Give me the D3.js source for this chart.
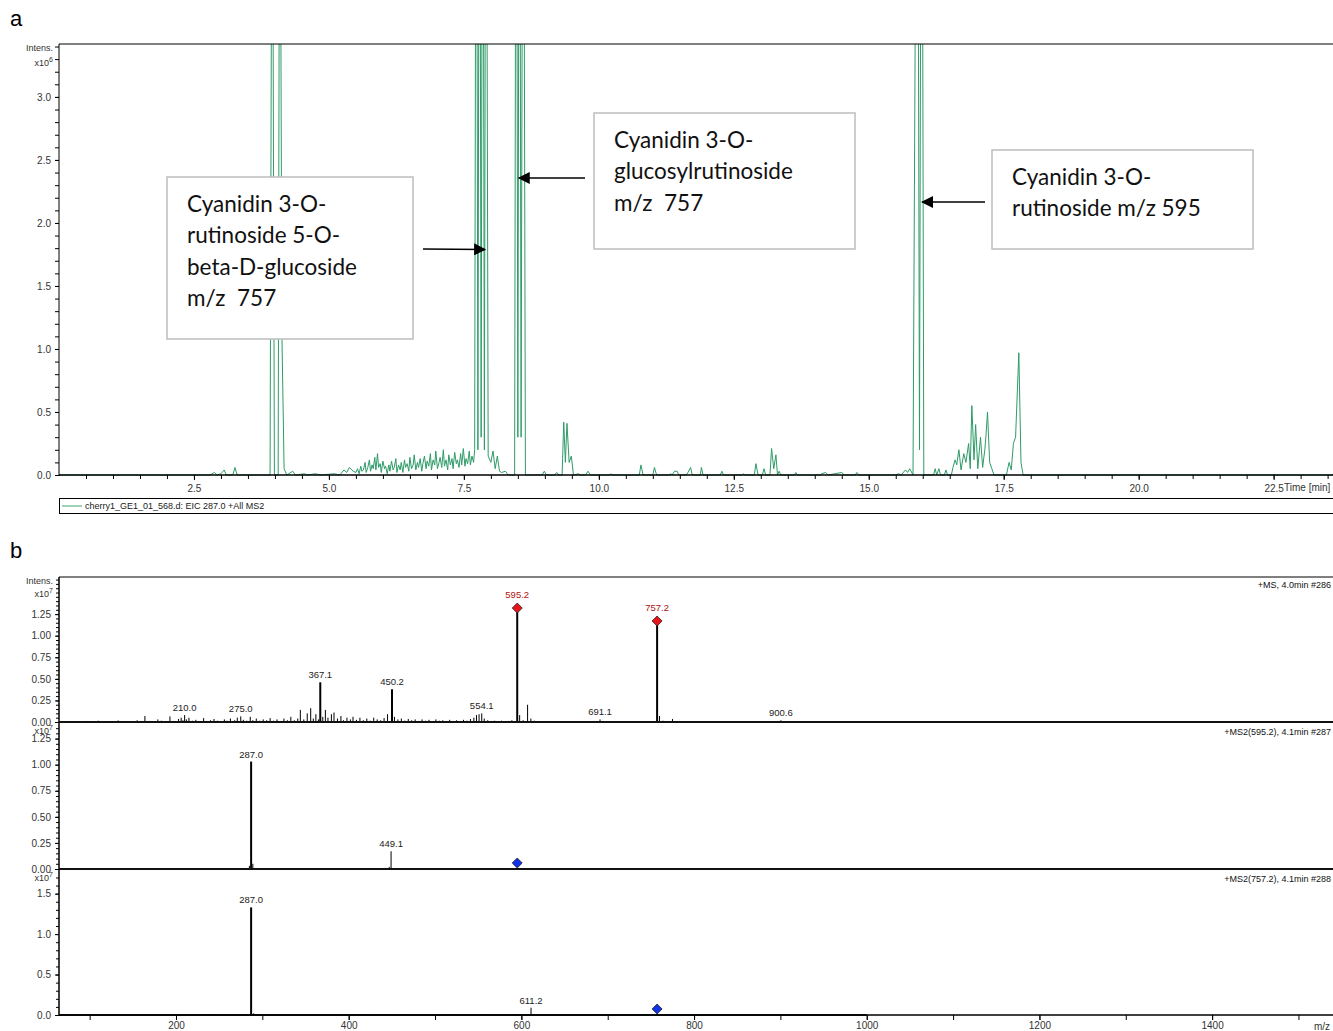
<!DOCTYPE html>
<html>
<head>
<meta charset="utf-8">
<script src="https://cdn.jsdelivr.net/npm/d3@7.9.0/dist/d3.min.js"></script>
<style>
  body { margin: 0; background: #fff; }
  svg { display: block; font-family: "Liberation Sans", Arial, sans-serif; }
  .tick text { fill: #333; }
</style>
</head>
<body>
<svg id="chart" width="1333" height="1031"></svg>
<script>
// ---- panel a: EIC trace, [time (min), intensity x10^6]
const eicTrace = [
  [0, 0], [2.8, 0], [2.88, 0.02], [2.93, 0], [3.0, 0.01], [3.06, 0.04], [3.1, 0], [3.22, 0], [3.26, 0.06], [3.3, 0],
  [3.91, 0], [3.95, 6.0], [3.99, 0], [4.06, 0], [4.09, 6.0], [4.13, 1.1], [4.17, 0.05], [4.22, 0], [4.33, 0.03], [4.38, 0],
  [4.55, 0.01], [4.6, 0], [4.75, 0.01], [4.85, 0], [5.1, 0.01], [5.2, 0], [5.28, 0.04], [5.33, 0.02], [5.38, 0.06], [5.45, 0.03],
  [5.5, 0.02], [5.53, 0.05], [5.56, 0.01], [5.59, 0.07], [5.61, 0.03], [5.64, 0.04], [5.67, 0.1], [5.69, 0.02], [5.72, 0.06], [5.75, 0.12],
  [5.77, 0.03], [5.8, 0.08], [5.82, 0.05], [5.85, 0.14], [5.87, 0.04], [5.9, 0.17], [5.92, 0.06], [5.95, 0.09], [5.97, 0.02], [6.0, 0.11],
  [6.03, 0.05], [6.05, 0.07], [6.08, 0.01], [6.11, 0.08], [6.13, 0.03], [6.16, 0.11], [6.19, 0.04], [6.21, 0.06], [6.24, 0.13], [6.26, 0.02],
  [6.29, 0.08], [6.32, 0.04], [6.34, 0.1], [6.37, 0.02], [6.4, 0.12], [6.42, 0.06], [6.45, 0.09], [6.48, 0.03], [6.5, 0.14], [6.53, 0.05],
  [6.56, 0.08], [6.58, 0.16], [6.61, 0.04], [6.64, 0.1], [6.66, 0.06], [6.69, 0.13], [6.72, 0.03], [6.74, 0.09], [6.77, 0.15], [6.8, 0.05],
  [6.82, 0.11], [6.85, 0.07], [6.88, 0.17], [6.9, 0.04], [6.93, 0.12], [6.96, 0.08], [6.98, 0.19], [7.01, 0.05], [7.04, 0.1], [7.06, 0.14],
  [7.09, 0.06], [7.12, 0.2], [7.14, 0.07], [7.17, 0.12], [7.2, 0.04], [7.22, 0.16], [7.25, 0.08], [7.28, 0.13], [7.3, 0.05], [7.33, 0.18],
  [7.36, 0.09], [7.38, 0.12], [7.41, 0.06], [7.44, 0.17], [7.46, 0.08], [7.49, 0.21], [7.52, 0.07], [7.54, 0.13], [7.57, 0.09], [7.6, 0.19],
  [7.62, 0.08], [7.65, 0.15], [7.68, 0.1], [7.7, 0.2],
  [7.73, 7.0], [7.76, 0.2], [7.79, 7.0], [7.82, 0.3], [7.85, 7.0], [7.88, 0.2], [7.91, 7.0], [7.95, 0.15],
  [8.0, 0.1], [8.04, 0.19], [8.08, 0.05], [8.12, 0.15], [8.16, 0.03], [8.2, 0.02], [8.27, 0.03], [8.32, 0], [8.44, 0],
  [8.47, 7.0], [8.5, 0.3], [8.53, 7.0], [8.56, 0.3], [8.6, 7.0], [8.64, 0], [8.95, 0], [8.99, 0.03], [9.03, 0], [9.18, 0], [9.22, 0.02], [9.26, 0],
  [9.32, 0], [9.35, 0.42], [9.38, 0.1], [9.41, 0.41], [9.45, 0.1], [9.49, 0.15], [9.53, 0], [9.62, 0.01], [9.66, 0], [9.75, 0], [9.8, 0.03], [9.84, 0],
  [10.2, 0], [10.22, 0.01], [10.25, 0], [10.75, 0], [10.78, 0.08], [10.82, 0], [11.0, 0], [11.03, 0.06], [11.07, 0], [11.3, 0], [11.33, 0.01], [11.36, 0],
  [11.4, 0.03], [11.45, 0.03], [11.48, 0], [11.62, 0], [11.65, 0.02], [11.7, 0.06], [11.73, 0], [11.88, 0], [11.9, 0.06], [11.93, 0],
  [12.25, 0], [12.28, 0.03], [12.31, 0], [12.65, 0], [12.68, 0.01], [12.71, 0], [12.88, 0], [12.91, 0.09], [12.95, 0], [13.03, 0], [13.06, 0.05], [13.09, 0],
  [13.17, 0], [13.2, 0.21], [13.24, 0.05], [13.28, 0.16], [13.31, 0], [13.34, 0.03], [13.37, 0],
  [13.62, 0], [13.65, 0.02], [13.68, 0], [14.1, 0], [14.13, 0.01], [14.2, 0.02], [14.25, 0], [14.5, 0.02], [14.55, 0], [14.75, 0], [14.78, 0.02], [14.82, 0],
  [15.5, 0], [15.55, 0.01], [15.6, 0], [15.68, 0.04], [15.72, 0.02], [15.76, 0.05], [15.82, 0],
  [15.9, 7.0], [15.94, 0.2], [15.98, 7.0], [16.02, 0], [16.2, 0], [16.23, 0.05], [16.26, 0], [16.3, 0.05], [16.33, 0], [16.4, 0], [16.43, 0.04], [16.46, 0],
  [16.53, 0], [16.56, 0.06], [16.6, 0.12], [16.63, 0.08], [16.67, 0.2], [16.71, 0.04], [16.76, 0.17], [16.8, 0.1], [16.85, 0.25], [16.88, 0.05],
  [16.91, 0.55], [16.95, 0.12], [16.98, 0.4], [17.02, 0.05], [17.07, 0.3], [17.11, 0.06], [17.15, 0.2], [17.17, 0.3], [17.2, 0.5], [17.24, 0.1],
  [17.28, 0.05], [17.32, 0], [17.55, 0], [17.6, 0.1], [17.64, 0.04], [17.68, 0.25], [17.72, 0.3], [17.78, 0.97], [17.82, 0.1], [17.86, 0], [23.6, 0]
];
const eicYTicks = [0, 0.5, 1.0, 1.5, 2.0, 2.5, 3.0];
const eicXTicks = [2.5, 5.0, 7.5, 10.0, 12.5, 15.0, 17.5, 20.0, 22.5];

// callout boxes and arrows (text lines, arrow tip at [time, intensity])
const callouts = [
  { lines: ['Cyanidin 3-O-', 'rutinoside 5-O-', 'beta-D-glucoside', 'm/z  757'], box: [167, 177, 246, 162], from: [423, 249], to: [7.89, 1.79] },
  { lines: ['Cyanidin 3-O-', 'glucosylrutinoside', 'm/z  757'], box: [594, 113, 261, 136], from: [585, 178], to: [8.52, 2.357] },
  { lines: ['Cyanidin 3-O-', 'rutinoside m/z 595'], box: [992, 150, 261, 99], from: [985, 202], to: [15.99, 2.166] }
];

// ---- panel b: spectra, [m/z, intensity x10^7]
const ms1Peaks = [
  [70, 0.008], [76, 0.004], [83, 0.01], [91, 0.006], [97, 0.012], [104, 0.005], [110, 0.015], [116, 0.006], [121, 0.01], [127, 0.004],
  [133, 0.018], [139, 0.008], [144, 0.012], [150, 0.006], [155, 0.02], [160, 0.01], [164, 0.07], [169, 0.012], [174, 0.008], [179, 0.03],
  [183, 0.015], [187, 0.01], [193, 0.065], [198, 0.012], [203, 0.035], [206, 0.05], [208, 0.02], [210, 0.08], [212, 0.03], [215, 0.05],
  [219, 0.015], [223, 0.025], [228, 0.01], [232, 0.045], [236, 0.012], [240, 0.02], [244, 0.035], [248, 0.015], [252, 0.01], [256, 0.03],
  [259, 0.015], [263, 0.04], [268, 0.02], [271, 0.05], [275, 0.065], [278, 0.025], [282, 0.015], [286, 0.06], [289, 0.02], [293, 0.04],
  [297, 0.015], [301, 0.03], [305, 0.02], [309, 0.045], [313, 0.015], [317, 0.03], [321, 0.01], [325, 0.04], [329, 0.02], [333, 0.06],
  [337, 0.02], [341, 0.04], [344, 0.14], [348, 0.03], [352, 0.1], [356, 0.16], [359, 0.04], [362, 0.09], [365, 0.03], [367.1, 0.46],
  [370, 0.06], [373, 0.14], [376, 0.05], [380, 0.09], [383, 0.11], [387, 0.04], [391, 0.07], [394, 0.02], [398, 0.05], [402, 0.03],
  [405, 0.06], [409, 0.025], [413, 0.05], [417, 0.02], [421, 0.04], [425, 0.015], [429, 0.05], [433, 0.03], [437, 0.02], [441, 0.045],
  [445, 0.09], [450.2, 0.38], [453, 0.06], [457, 0.03], [461, 0.04], [465, 0.015], [469, 0.035], [473, 0.02], [477, 0.03], [481, 0.012],
  [485, 0.03], [489, 0.015], [493, 0.025], [497, 0.01], [501, 0.03], [505, 0.015], [509, 0.02], [513, 0.01], [517, 0.025], [521, 0.012],
  [525, 0.02], [529, 0.008], [533, 0.025], [537, 0.015], [541, 0.035], [545, 0.05], [548, 0.08], [551, 0.09], [554.1, 0.1], [557, 0.04],
  [561, 0.02], [565, 0.012], [569, 0.015], [573, 0.008], [577, 0.015], [581, 0.01], [585, 0.012], [589, 0.02], [595.2, 1.32], [598, 0.08],
  [602, 0.02], [607.2, 0.2], [611, 0.04], [615, 0.015], [620, 0.01], [626, 0.006], [632, 0.012], [640, 0.005], [648, 0.01], [655, 0.004],
  [663, 0.008], [670, 0.005], [678, 0.008], [685, 0.012], [691.1, 0.03], [697, 0.006], [705, 0.008], [712, 0.005], [720, 0.008], [728, 0.004],
  [736, 0.008], [744, 0.006], [750, 0.01], [757.2, 1.17], [760, 0.07], [764, 0.015], [770, 0.012], [775, 0.035], [780, 0.01], [790, 0.006],
  [800, 0.004], [815, 0.004], [830, 0.003], [850, 0.004], [870, 0.003], [885, 0.004], [900.6, 0.02], [915, 0.003], [930, 0.003], [950, 0.003],
  [970, 0.003], [990, 0.003]
];
const ms1Labels = [210.0, 275.0, 367.1, 450.2, 554.1, 595.2, 691.1, 757.2, 900.6];
const ms1Precursors = [595.2, 757.2];

const ms2aPeaks = [
  [215, 0.005], [230, 0.008], [245, 0.005], [270, 0.005], [285, 0.03], [287.0, 1.03], [289, 0.05], [291, 0.01], [300, 0.005], [350, 0.005],
  [375, 0.005], [405, 0.005], [430, 0.01], [447, 0.02], [449.1, 0.17], [452, 0.01], [470, 0.005], [500, 0.005], [540, 0.004], [577, 0.01]
];
const ms2aLabels = [287.0, 449.1];
const ms2aPrecursor = [595.2];

const ms2bPeaks = [
  [230, 0.005], [245, 0.006], [287.0, 1.33], [290, 0.02], [408, 0.005], [420, 0.005], [433, 0.005], [445, 0.005], [460, 0.004], [520, 0.004],
  [560, 0.004], [595, 0.006], [611.2, 0.09], [614, 0.01], [690, 0.004], [745, 0.004]
];
const ms2bLabels = [287.0, 611.2];
const ms2bPrecursor = [757.2];

const mzTicks = [200, 400, 600, 800, 1000, 1200, 1400];

const svg = d3.select('#chart');
const green = '#2f9b68';

// ================= panel a =================
const xT = d3.scaleLinear().domain([0, 23.6]).range([59, 1333]);
const yA = d3.scaleLinear().domain([0, 3.42]).range([475, 44]);

svg.append('text').attr('x', 10).attr('y', 26).attr('font-size', 22).text('a');
svg.append('text').attr('x', 10).attr('y', 558).attr('font-size', 22).text('b');

svg.append('defs').append('clipPath').attr('id', 'clipA')
  .append('rect').attr('x', 59).attr('y', 44).attr('width', 1274).attr('height', 432);

const gA = svg.append('g');
gA.append('path')
  .datum(eicTrace)
  .attr('clip-path', 'url(#clipA)')
  .attr('fill', 'none')
  .attr('stroke', green)
  .attr('stroke-width', 1)
  .attr('d', d3.line().x((d) => xT(d[0])).y((d) => yA(d[1])));

// axes a
gA.append('g').attr('transform', 'translate(59,0)')
  .call(d3.axisLeft(yA).tickValues(d3.range(0, 3.41, 0.1)).tickSize(4).tickFormat('').tickSizeOuter(0))
  .call((g) => g.select('.domain').remove());
gA.append('g').attr('transform', 'translate(59,0)')
  .call(d3.axisLeft(yA).tickValues(eicYTicks).tickSize(4).tickFormat(d3.format('.1f')).tickSizeOuter(0))
  .call((g) => g.select('.domain').remove())
  .call((g) => g.selectAll('text').attr('font-size', 10).attr('dx', -1));
gA.append('g').attr('transform', 'translate(0,475)')
  .call(d3.axisBottom(xT).tickValues(d3.range(0.5, 23.6, 0.5)).tickSize(4).tickFormat('').tickSizeOuter(0))
  .call((g) => g.select('.domain').remove());
gA.append('g').attr('transform', 'translate(0,475)')
  .call(d3.axisBottom(xT).tickValues(eicXTicks).tickSize(5).tickFormat(d3.format('.1f')).tickSizeOuter(0))
  .call((g) => g.select('.domain').remove())
  .call((g) => g.selectAll('text').attr('font-size', 10).attr('dy', '0.9em'));
gA.append('text').attr('x', 1284).attr('y', 491).attr('font-size', 10).attr('fill', '#333').text('Time [min]');

gA.append('line').attr('x1', 59).attr('x2', 59).attr('y1', 44).attr('y2', 476).attr('stroke', '#000');
gA.append('line').attr('x1', 59).attr('x2', 1333).attr('y1', 44).attr('y2', 44).attr('stroke', '#000');
gA.append('line').attr('x1', 59).attr('x2', 1333).attr('y1', 475).attr('y2', 475).attr('stroke', '#000').attr('stroke-width', 1.5);
gA.append('text').attr('x', 53).attr('y', 51).attr('text-anchor', 'end').attr('font-size', 9).attr('fill', '#333').text('Intens.');
gA.append('text').attr('x', 53).attr('y', 66).attr('text-anchor', 'end').attr('font-size', 9).attr('fill', '#333')
  .html('x10<tspan dy="-4" font-size="7">6</tspan>');

// legend
gA.append('rect').attr('x', 59.5).attr('y', 498.5).attr('width', 1280).attr('height', 15)
  .attr('fill', '#fff').attr('stroke', '#000');
gA.append('line').attr('x1', 62).attr('x2', 82).attr('y1', 506).attr('y2', 506).attr('stroke', '#7cc49c').attr('stroke-width', 1.5);
gA.append('text').attr('x', 85).attr('y', 509).attr('font-size', 9).attr('fill', '#222')
  .text('cherry1_GE1_01_568.d: EIC 287.0 +All MS2');

// callouts
svg.append('defs').append('marker').attr('id', 'arrow')
  .attr('viewBox', '0 0 10 10').attr('refX', 9).attr('refY', 5)
  .attr('markerWidth', 13).attr('markerHeight', 12).attr('markerUnits', 'userSpaceOnUse')
  .attr('orient', 'auto')
  .append('path').attr('d', 'M0,0 L10,5 L0,10 Z').attr('fill', '#000');

callouts.forEach((c) => {
  const [bx, by, bw, bh] = c.box;
  svg.append('rect').attr('x', bx).attr('y', by).attr('width', bw).attr('height', bh)
    .attr('fill', '#fff').attr('stroke', '#bdbdbd').attr('stroke-width', 1.5);
  c.lines.forEach((ln, i) => {
    svg.append('text').attr('x', bx + 20).attr('y', by + 35 + i * 31.3)
      .attr('font-family', 'Lato, "Open Sans", sans-serif').attr('font-size', 22.5).attr('fill', '#111')
      .style('white-space', 'pre')
      .text(ln);
  });
  svg.append('line').attr('x1', c.from[0]).attr('y1', c.from[1])
    .attr('x2', xT(c.to[0])).attr('y2', yA(c.to[1]))
    .attr('stroke', '#000').attr('stroke-width', 1.5).attr('marker-end', 'url(#arrow)');
});

// ================= panel b =================
const xM = d3.scaleLinear().domain([64.5, 1540]).range([59, 1333]);

const spectra = [
  { peaks: ms1Peaks, labels: ms1Labels, prec: ms1Precursors, onPeak: true, color: '#e8141c', labelColor: '#b01010',
    y: d3.scaleLinear().domain([0, 1.68]).range([722, 577]), major: [0, 0.25, 0.5, 0.75, 1.0, 1.25], minor: 0.05, fmt: '.2f',
    title: '+MS, 4.0min #286', top: 577, intens: true },
  { peaks: ms2aPeaks, labels: ms2aLabels, prec: ms2aPrecursor, onPeak: false, color: '#1233e6', labelColor: '#222',
    y: d3.scaleLinear().domain([0, 1.39]).range([869, 724]), major: [0, 0.25, 0.5, 0.75, 1.0, 1.25], minor: 0.05, fmt: '.2f',
    title: '+MS2(595.2), 4.1min #287', top: 724, intens: false },
  { peaks: ms2bPeaks, labels: ms2bLabels, prec: ms2bPrecursor, onPeak: false, color: '#1233e6', labelColor: '#222',
    y: d3.scaleLinear().domain([0, 1.78]).range([1015, 871]), major: [0, 0.5, 1.0, 1.5], minor: 0.1, fmt: '.1f',
    title: '+MS2(757.2), 4.1min #288', top: 871, intens: false }
];

const gB = svg.append('g');
spectra.forEach((s) => {
  const g = gB.append('g');
  const y0 = s.y(0);
  const peakMap = new Map(s.peaks.map((p) => [p[0], p[1]]));

  // spectrum baseline over scan range
  g.append('line').attr('x1', xM(64.5)).attr('x2', xM(1000)).attr('y1', y0).attr('y2', y0)
    .attr('stroke', '#222').attr('stroke-width', 2);

  g.selectAll('line.pk').data(s.peaks).join('line').attr('class', 'pk')
    .attr('x1', (d) => xM(d[0])).attr('x2', (d) => xM(d[0]))
    .attr('y1', y0).attr('y2', (d) => s.y(d[1]))
    .attr('stroke', '#000')
    .attr('stroke-width', (d) => (d[1] > 0.3 ? 2 : 1));

  // y axis
  g.append('g').attr('transform', 'translate(59,0)')
    .call(d3.axisLeft(s.y).tickValues(d3.range(0, s.y.domain()[1], s.minor)).tickSize(3).tickFormat('').tickSizeOuter(0))
    .call((a) => a.select('.domain').remove());
  g.append('g').attr('transform', 'translate(59,0)')
    .call(d3.axisLeft(s.y).tickValues(s.major).tickSize(4).tickFormat(d3.format(s.fmt)).tickSizeOuter(0))
    .call((a) => a.select('.domain').remove())
    .call((a) => a.selectAll('text').attr('font-size', 10).attr('dx', -1));

  g.append('text').attr('x', 53).attr('y', s.top + (s.intens ? 20 : 10)).attr('text-anchor', 'end')
    .attr('font-size', 9).attr('fill', '#333').html('x10<tspan dy="-4" font-size="7">7</tspan>');
  if (s.intens) {
    g.append('text').attr('x', 53).attr('y', s.top + 7).attr('text-anchor', 'end')
      .attr('font-size', 9).attr('fill', '#333').text('Intens.');
  }
  g.append('text').attr('x', 1331).attr('y', s.top + 11).attr('text-anchor', 'end')
    .attr('font-size', 9).attr('fill', '#111').text(s.title);

  // precursor diamonds
  s.prec.forEach((mz) => {
    const cy = s.onPeak ? s.y(peakMap.get(mz)) : y0 - 6;
    g.append('path').attr('d', d3.symbol(d3.symbolDiamond2, 64)())
      .attr('transform', `translate(${xM(mz)},${cy})`)
      .attr('fill', s.color).attr('stroke', '#222').attr('stroke-width', 0.8);
  });

  // peak labels
  s.labels.forEach((mz) => {
    const isPrec = s.onPeak && s.prec.includes(mz);
    g.append('text').attr('x', xM(mz)).attr('y', s.y(peakMap.get(mz)) - (isPrec ? 10 : 4))
      .attr('text-anchor', 'middle').attr('font-size', 9.5)
      .attr('fill', isPrec ? s.labelColor : '#222')
      .text(d3.format('.1f')(mz));
  });
});

// frame lines
gB.append('line').attr('x1', 59).attr('x2', 1333).attr('y1', 577).attr('y2', 577).attr('stroke', '#000');
gB.append('line').attr('x1', 59).attr('x2', 59).attr('y1', 577).attr('y2', 1016).attr('stroke', '#000').attr('stroke-width', 1.5);
[722, 869].forEach((yy) => {
  gB.append('line').attr('x1', 59).attr('x2', 1333).attr('y1', yy).attr('y2', yy).attr('stroke', '#111').attr('stroke-width', 2);
});
gB.append('line').attr('x1', 59).attr('x2', 1333).attr('y1', 1015).attr('y2', 1015).attr('stroke', '#000').attr('stroke-width', 1.5);

// m/z axis
gB.append('g').attr('transform', 'translate(0,1015)')
  .call(d3.axisBottom(xM).tickValues(d3.range(100, 1540, 100)).tickSize(5).tickFormat('').tickSizeOuter(0))
  .call((a) => a.select('.domain').remove());
gB.append('g').attr('transform', 'translate(0,1015)')
  .call(d3.axisBottom(xM).tickValues(mzTicks).tickSize(5).tickFormat(d3.format('d')).tickSizeOuter(0))
  .call((a) => a.select('.domain').remove())
  .call((a) => a.selectAll('text').attr('font-size', 10).attr('dy', '0.6em'));
gB.append('text').attr('x', 1314).attr('y', 1030).attr('font-size', 10).attr('fill', '#333').text('m/z');
</script>
</body>
</html>
